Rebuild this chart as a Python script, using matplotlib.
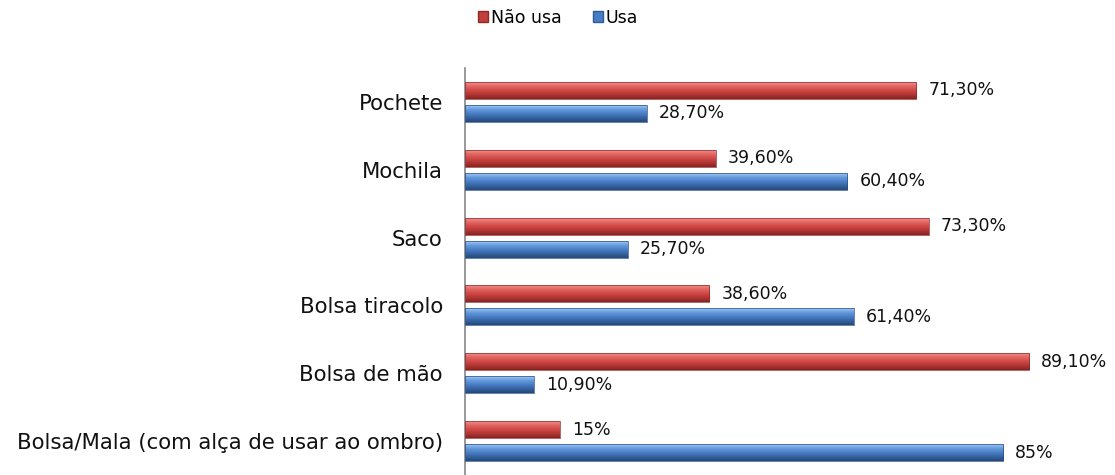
import matplotlib
matplotlib.use("Agg")
import matplotlib.pyplot as plt
import numpy as np
from matplotlib.colors import LinearSegmentedColormap
from matplotlib.patches import Patch

categories = ["Pochete", "Mochila", "Saco", "Bolsa tiracolo", "Bolsa de mão",
              "Bolsa/Mala (com alça de usar ao ombro)"]
nao_usa = [71.3, 39.6, 73.3, 38.6, 89.1, 15.0]
usa = [28.7, 60.4, 25.7, 61.4, 10.9, 85.0]
nao_usa_labels = ["71,30%", "39,60%", "73,30%", "38,60%", "89,10%", "15%"]
usa_labels = ["28,70%", "60,40%", "25,70%", "61,40%", "10,90%", "85%"]
series_names = ["Não usa", "Usa"]

plt.rcParams['font.family'] = ['DejaVu Sans']

fig = plt.figure(figsize=(11.15, 4.75), dpi=100)
ax = fig.add_axes([465/1115, 0.0, (1098-465)/1115, (475-68)/475])

y = np.arange(len(categories))
h = 0.25
off = 0.17

red_cmap = LinearSegmentedColormap.from_list(
    "r", ["#F2908D", "#E06461", "#CF4845", "#B03532", "#842422"])
blue_cmap = LinearSegmentedColormap.from_list(
    "b", ["#A2C8F4", "#659BDE", "#4A7EC4", "#3563A2", "#26497A"])
grad = np.linspace(0, 1, 64).reshape(-1, 1)

def bevel_bar(ypos, vals, cmap, edge):
    bars = ax.barh(ypos, vals, height=h, color="none", edgecolor=edge,
                   linewidth=0.5, zorder=3)
    for b in bars:
        x0, y0 = b.get_x(), b.get_y()
        w, hh = b.get_width(), b.get_height()
        im = ax.imshow(grad, cmap=cmap, aspect="auto",
                       extent=(x0, x0 + w, y0 + hh, y0), origin="upper", zorder=2)
        im.set_clip_path(b)
    return bars

bevel_bar(y - off, nao_usa, red_cmap, "#8E2A28")
bevel_bar(y + off, usa, blue_cmap, "#284F85")

for yi, v, lab in zip(y - off, nao_usa, nao_usa_labels):
    ax.text(v + 1.9, yi, lab, va="center", ha="left", fontsize=12.5, color="#111111")
for yi, v, lab in zip(y + off, usa, usa_labels):
    ax.text(v + 1.9, yi, lab, va="center", ha="left", fontsize=12.5, color="#111111")

ax.set_xlim(0, 100)
ax.set_ylim(len(categories) - 0.5, -0.5)
ax.set_yticks(y)
ax.set_yticklabels(categories, fontsize=15.3, color="#111111")
ax.tick_params(axis="y", length=0, pad=16)
ax.set_xticks([])
for s in ["top", "right", "bottom"]:
    ax.spines[s].set_visible(False)
ax.spines["left"].set_color("#888888")
ax.spines["left"].set_linewidth(1.2)

handles = [Patch(facecolor="#C0403D", edgecolor="#8E2A28"),
           Patch(facecolor="#4A7EC4", edgecolor="#2F5C96")]
fig.legend(handles, series_names, loc="center", bbox_to_anchor=(558/1115, 1 - 18/475),
           ncol=2, frameon=False, fontsize=12.5, handlelength=0.6, handleheight=0.6,
           handletextpad=0.15, columnspacing=1.8)

fig.savefig("out.png", dpi=100)
